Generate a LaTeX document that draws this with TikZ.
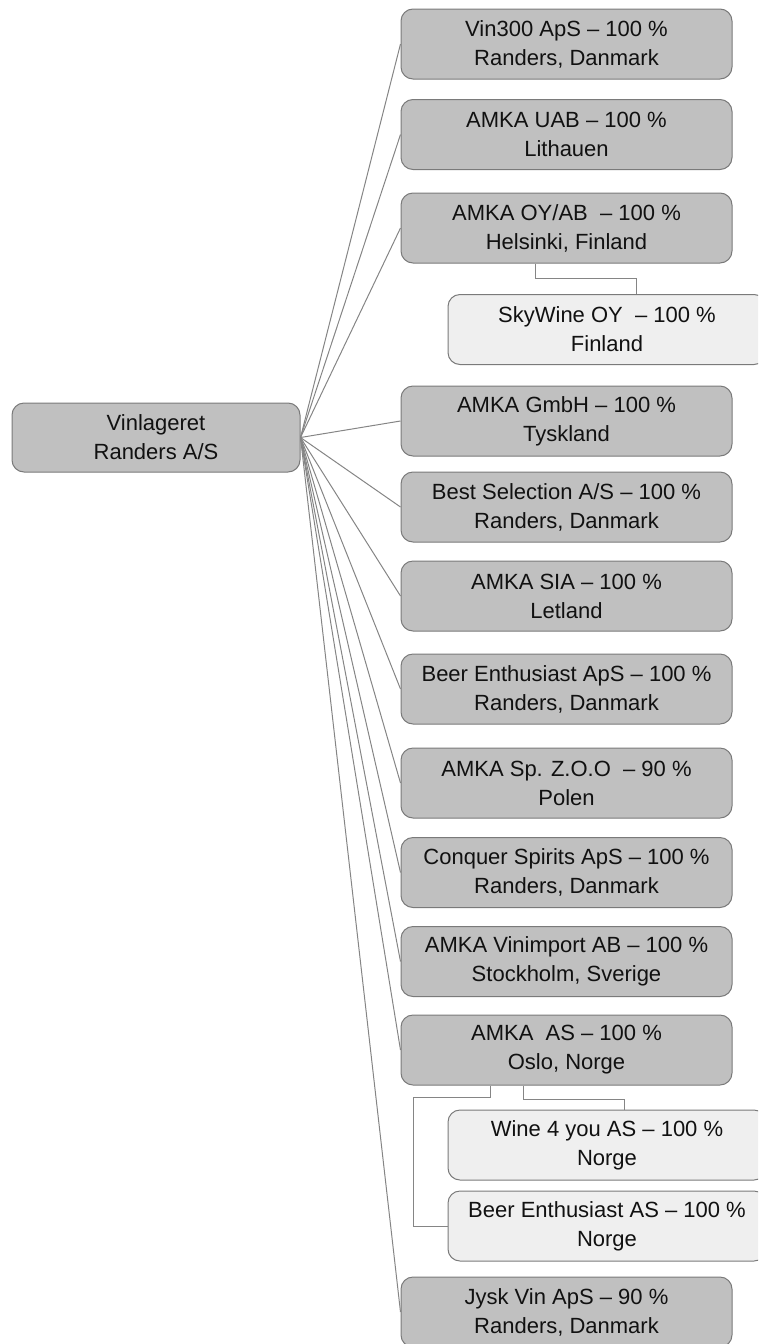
\documentclass[tikz,border=0pt]{standalone}
\usepackage{fontspec}
\setmainfont{Liberation Sans}
\begin{document}
\begin{tikzpicture}[x=1pt,y=-1pt,
  box/.style={draw=boxline, line width=1pt, rounded corners=12pt, align=center,
    font=\fontsize{22}{29}\selectfont, text=txt, inner sep=0pt, minimum height=70pt},
  mainbox/.style={box, fill=mainfill, minimum width=331pt},
  subbox/.style={box, fill=subfill, minimum width=318pt},
  rootbox/.style={box, fill=mainfill, minimum width=288pt, minimum height=69pt},
  link/.style={draw=linkc, line width=1pt}]
\definecolor{mainfill}{HTML}{C0C0C0}
\definecolor{subfill}{HTML}{EFEFEF}
\definecolor{boxline}{HTML}{7A7A7A}
\definecolor{linkc}{HTML}{858585}
\definecolor{txt}{HTML}{111111}
\useasboundingbox (0,0) rectangle (758,1344);
\begin{scope}
\clip (0,0) rectangle (758,1344);
\node[rootbox] (root) at (156,437.5) {Vinlageret\\Randers A/S};
\node[mainbox] (b1) at (566.5,44) {Vin300 ApS -- 100 \%\\Randers,\ Danmark};
\node[mainbox] (b2) at (566.5,134.5) {AMKA UAB -- 100 \%\\Lithauen};
\node[mainbox] (b3) at (566.5,228) {AMKA OY/AB \ -- 100 \%\\Helsinki,\ Finland};
\node[subbox] (s1) at (607,329.5) {SkyWine OY \ -- 100 \%\\Finland};
\node[mainbox] (b4) at (566.5,421) {AMKA GmbH -- 100 \%\\Tyskland};
\node[mainbox] (b5) at (566.5,507) {Best Selection A/S -- 100 \%\\Randers,\ Danmark};
\node[mainbox] (b6) at (566.5,596) {AMKA SIA -- 100 \%\\Letland};
\node[mainbox] (b7) at (566.5,689) {Beer Enthusiast\ ApS -- 100 \%\\Randers,\ Danmark};
\node[mainbox] (b8) at (566.5,783) {AMKA Sp. Z.O.O \ -- 90 \%\\Polen};
\node[mainbox] (b9) at (566.5,872.5) {Conquer Spirits ApS -- 100 \%\\Randers,\ Danmark};
\node[mainbox] (b10) at (566.5,961.5) {AMKA Vinimport AB -- 100 \%\\Stockholm,\ Sverige};
\node[mainbox] (b11) at (566.5,1050) {AMKA\ \ AS -- 100 \%\\Oslo,\ Norge};
\node[subbox] (s2) at (607,1145) {Wine 4 you AS -- 100 \%\\Norge};
\node[subbox] (s3) at (607,1226) {Beer Enthusiast AS -- 100 \%\\Norge};
\node[mainbox] (b12) at (566.5,1312) {Jysk Vin ApS -- 90 \%\\Randers,\ Danmark};
\end{scope}
\foreach \b in {b1,b2,b3,b4,b5,b6,b7,b8,b9,b10,b11,b12}
  \draw[link] (root.east) -- (\b.west);
\draw[link] (b3.south -| 535,0) |- (636,278) -- (s1.north -| 636,0);
\draw[link] (b11.south -| 523,0) |- (624,1099) -- (s2.north -| 624,0);
\draw[link] (b11.south -| 490,0) |- (413,1097) |- (s3.west);
\end{tikzpicture}
\end{document}
